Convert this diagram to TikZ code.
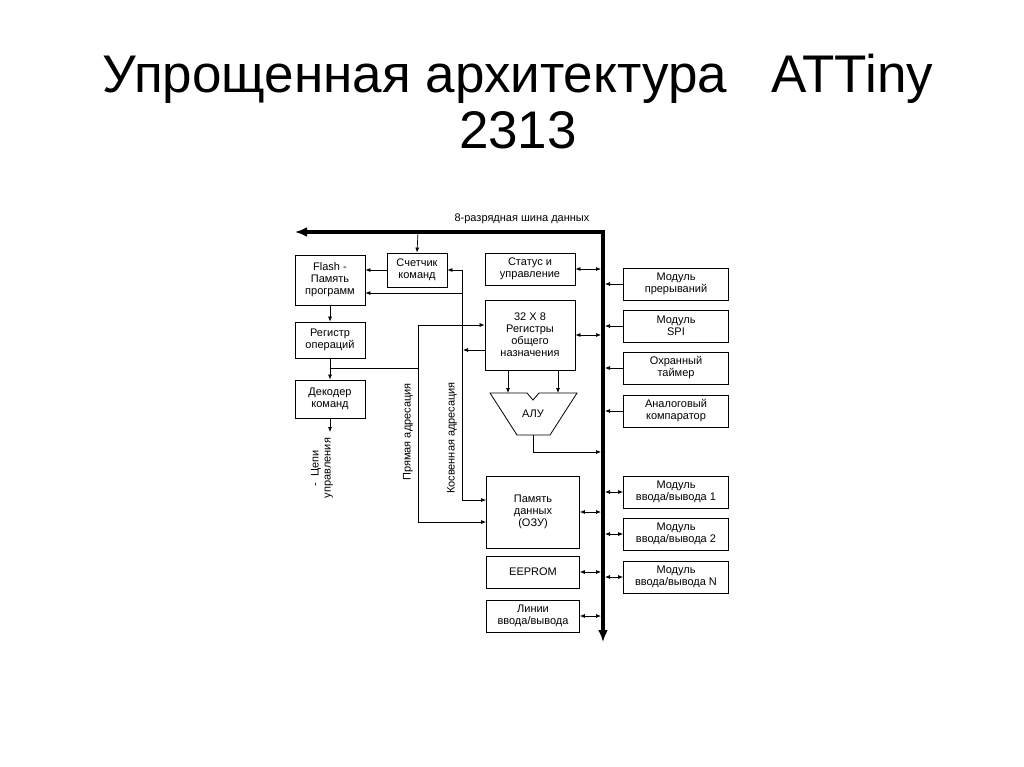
\documentclass[tikz,border=0pt]{standalone}
\usepackage{fontspec}
\setmainfont{Liberation Sans}
\usetikzlibrary{arrows.meta}
\begin{document}
\begin{tikzpicture}[x=1pt,y=-1pt,
  bx/.style={draw,line width=0.8pt,align=center,font=\fontsize{11}{12}\selectfont,inner sep=1pt},
  ln/.style={line width=0.7pt},
  ar/.style={ln,-{Latex[length=5pt,width=4pt]}},
  da/.style={ln,{Latex[length=5pt,width=4pt]}-{Latex[length=5pt,width=4pt]}},
  lbl/.style={font=\fontsize{11}{12}\selectfont}]
\useasboundingbox[fill=white] (0,0) rectangle (1024,767);
\node[font=\fontsize{53}{56}\selectfont,align=center] (title) at (518,102) {Упрощенная архитектура\ \ \ ATTiny\\2313};
% bus
\coordinate (bl) at (295,232);
\coordinate (bb) at (603,642);
\draw[line width=4pt,-{Latex[length=12pt,width=10pt]},line join=miter] (bb) ++(0,-12) -- (603,232) -- (bl);
\draw[line width=4pt,-{Latex[length=12pt,width=10pt]}] (603,232) -- (bb);
\node[lbl] (buslbl) at (522,219) {8-разрядная шина данных};
% boxes
\node[bx,minimum width=70,minimum height=50] (flash) at (330,280) {Flash -\\Память\\программ};
\node[bx,minimum width=60,minimum height=34] (cnt) at (417,270) {Счетчик\\команд};
\node[bx,minimum width=90,minimum height=32] (stat) at (530,269) {Статус и\\управление};
\node[bx,minimum width=90,minimum height=70] (reg) at (530,335) {32 X 8\\Регистры\\общего\\назначения};
\node[bx,minimum width=70,minimum height=36] (rop) at (330,340) {Регистр\\операций};
\node[bx,minimum width=70,minimum height=38] (dec) at (330,399) {Декодер\\команд};
\node[bx,minimum width=93,minimum height=72] (ram) at (533,512) {Память\\данных\\(ОЗУ)};
\node[bx,minimum width=93,minimum height=32] (eep) at (533,572) {EEPROM};
\node[bx,minimum width=93,minimum height=32] (lin) at (533,616) {Линии\\ввода/вывода};
\foreach \n/\y/\t in {m1/284/{Модуль\\прерываний},m2/326/{Модуль\\SPI},m3/368/{Охранный\\таймер},m4/411/{Аналоговый\\компаратор},io1/492/{Модуль\\ввода/вывода 1},io2/534/{Модуль\\ввода/вывода 2},ion/577/{Модуль\\ввода/вывода N}}
  \node[bx,minimum width=105,minimum height=32] (\n) at (676,\y) {\t};
% ALU
\draw[line width=0.8pt] (490,393) -- (527,393) -- (533,400) -- (539,393) -- (577,393) -- (550,435) -- (517,435) -- cycle;
\node[lbl] (alu) at (533,414) {АЛУ};
\draw[ar] (508,370) -- (508,393);
\draw[ar] (558,370) -- (558,393);
\draw[ar] (533,435) -- (533,452) -- (601,452);
% left side
\draw[ar] (418,232) -- (cnt.north);
\draw[ar] (cnt.west) -- (flash.east |- cnt.west);
\draw[ar] (flash.south) -- (rop.north);
\draw[ar] (rop.south) -- (dec.north);
\draw[ar] (dec.south) -- (330,432);
\node[lbl,rotate=90,align=center] (cepi) at (322,468) {- \ Цепи\\управления};
% indirect addressing line x=462
\draw[ar] (462,500) -- (462,270) -- (cnt.east |- 462,270);
\draw[ar] (462,293) -- (flash.east |- 462,293);
\draw[ar] (reg.west |- 462,350) -- (463,350);
\draw[ar] (462,499) -- (462,500) -- (ram.west |- 462,500);
\node[lbl,rotate=90] (kos) at (452,438) {Косвенная адресация};
% direct addressing x=418
\draw[ar] (418,368) -- (418,325) -- (reg.west |- 418,325);
\draw[ar] (418,368) -- (418,522) -- (ram.west |- 418,522);
\draw[ln] (330,368) -- (418,368);
\node[lbl,rotate=90] (pr) at (408,432) {Прямая адресация};
% bus connections
\foreach \b/\y in {stat/269,reg/335,ram/512,eep/572,lin/616}
  \draw[da] (\b.east |- 0,\y) -- (601,\y);
\foreach \b in {m1,m2,m3,m4}
  \draw[ar] (\b.west) -- (605,0 |- \b.west);
\foreach \b in {io1,io2,ion}
  \draw[da] (605,0 |- \b.west) -- (\b.west);
\end{tikzpicture}
\end{document}
